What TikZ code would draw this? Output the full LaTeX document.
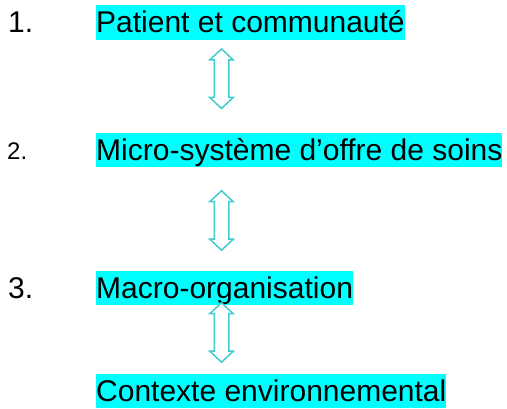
\documentclass[tikz,border=0pt]{standalone}
\usepackage{fontspec}
\setmainfont{Liberation Sans}

\definecolor{hilite}{RGB}{0,255,255}
\definecolor{turq}{RGB}{66,204,204}

\begin{document}
\begin{tikzpicture}[x=1pt, y=1pt,
  level/.style={fill=hilite, inner xsep=0pt, inner ysep=0pt, anchor=base west,
    text height=27.5pt, text depth=7pt, font=\fontsize{30}{34}\selectfont},
  num/.style={anchor=base west, inner sep=0pt, font=\fontsize{30}{34}\selectfont},
  link/.style={draw=turq, line width=1.5pt, fill=white, line join=miter}]
  \useasboundingbox (0,0) rectangle (507,409);
  % the four levels
  \node[level] (patient) at (96,376.3) {Patient et communauté};
  \node[level] (micro) at (96,248.5) {Micro-système d’offre de soins};
  \node[level] (macro) at (96,110.5) {Macro-organisation};
  \node[level] (env) at (96,7.5) {Contexte environnemental};
  % numbering
  \node[num] (n1) at (8,376.3) {1.};
  \node[num, font=\fontsize{24}{28}\selectfont] (n2) at (7,249.5) {2.};
  \node[num] (n3) at (8,110.5) {3.};
  % links between levels: hollow double arrows
  \coordinate (l1) at (221.5,330.3);
  \coordinate (l2) at (221.5,188.5);
  \coordinate (l3) at (221.5,76.5);
  \foreach \l in {l1,l2,l3}
    \draw[link, shift={(\l)}] (0,29.75) -- (11.75,18.75) -- (7.25,18.75)
      -- (7.25,-18.75) -- (11.75,-18.75) -- (0,-29.75) -- (-11.75,-18.75)
      -- (-7.25,-18.75) -- (-7.25,18.75) -- (-11.75,18.75) -- cycle;
\end{tikzpicture}
\end{document}
